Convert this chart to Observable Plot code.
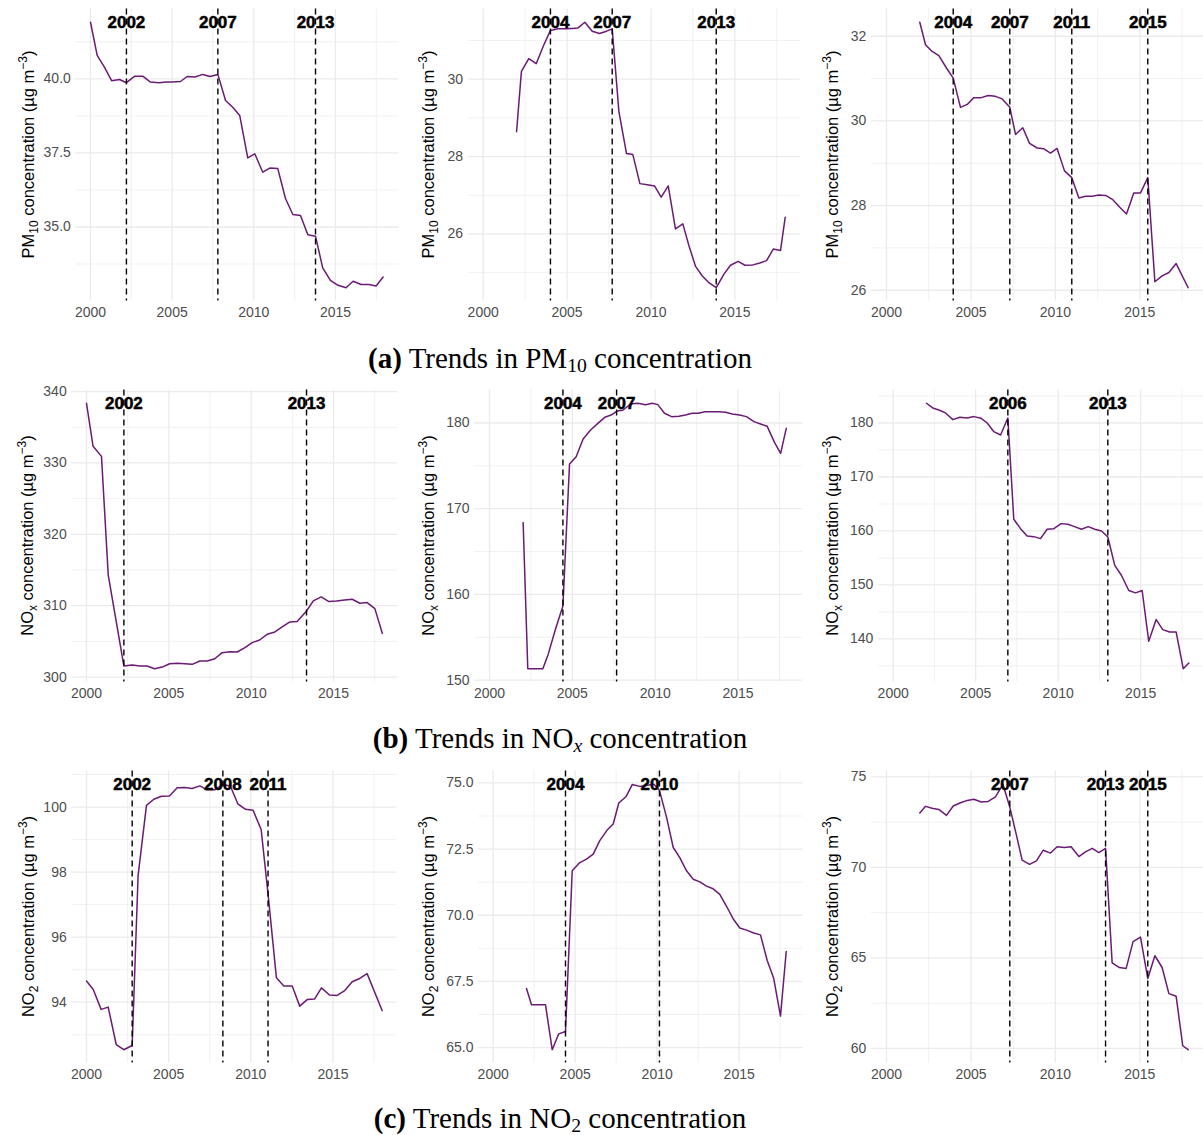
<!DOCTYPE html>
<html>
<head>
<meta charset="utf-8">
<script src="https://cdn.jsdelivr.net/npm/d3@7"></script>
<script src="https://cdn.jsdelivr.net/npm/@observablehq/plot@0.6"></script>
<style>
  html, body { margin: 0; padding: 0; background: #fff; }
  body { width: 1203px; height: 1135px; position: relative; overflow: hidden; font-family: "Liberation Sans", Arial, sans-serif; }
  .panel { position: absolute; }
  .cap { position: absolute; left: 0; width: 1120px; text-align: center; font-family: "Liberation Serif", "Times New Roman", serif; font-size: 29px; line-height: 24px; height: 24px; color: #000; white-space: nowrap; }
  .cap sub { font-size: 68%; vertical-align: -0.2em; line-height: 0; }
</style>
</head>
<body>
<script>
// ---------- shared axis ticks ----------
const xMajor = [2000, 2005, 2010, 2015];
const xMinor = [2002.5, 2007.5, 2012.5, 2017.5];

// ---------- (a) PM10 ----------
const pm10A_year = [2000.00,2000.41,2000.86,2001.29,2001.78,2002.20,2002.71,2003.20,2003.67,2004.18,2004.65,2005.00,2005.51,2005.92,2006.39,2006.88,2007.31,2007.80,2008.27,2008.71,2009.14,2009.63,2010.06,2010.55,2010.98,2011.47,2011.94,2012.39,2012.86,2013.31,2013.78,2014.22,2014.69,2015.16,2015.65,2016.08,2016.57,2017.04,2017.49,2017.92];
const pm10A_value = [41.91,40.79,40.39,39.94,39.98,39.87,40.09,40.09,39.89,39.87,39.89,39.89,39.91,40.08,40.06,40.15,40.08,40.15,39.27,39.04,38.76,37.33,37.47,36.85,36.99,36.97,35.96,35.42,35.39,34.74,34.69,33.62,33.20,33.03,32.95,33.17,33.06,33.06,33.01,33.31];
const pm10A_breaks = [2002.20, 2007.80, 2013.78];
const pm10A_labels = ["2002", "2007", "2013"];
const pm10A_yMajor = [35, 37.5, 40];
const pm10A_yMinor = [33.75, 36.25, 38.75, 41.25];

const pm10B_year = [2001.99,2002.28,2002.72,2003.16,2003.58,2004.01,2004.45,2004.91,2005.30,2005.64,2006.06,2006.50,2006.93,2007.35,2007.69,2008.09,2008.54,2008.92,2009.34,2009.78,2010.21,2010.61,2011.03,2011.46,2011.90,2012.26,2012.66,2013.05,2013.45,2013.89,2014.35,2014.74,2015.20,2015.60,2016.07,2016.49,2016.89,2017.29,2017.72,2018.00];
const pm10B_value = [28.64,30.20,30.53,30.40,30.85,31.26,31.30,31.30,31.31,31.32,31.47,31.24,31.18,31.24,31.30,29.16,28.08,28.05,27.30,27.27,27.24,26.95,27.24,26.13,26.26,25.70,25.16,24.92,24.74,24.61,24.96,25.19,25.29,25.19,25.20,25.25,25.31,25.61,25.57,26.43];
const pm10B_breaks = [2004.01, 2007.69, 2013.89];
const pm10B_labels = ["2004", "2007", "2013"];
const pm10B_yMajor = [26, 28, 30];
const pm10B_yMinor = [25, 27, 29, 31];

const pm10C_year = [2001.97,2002.31,2002.70,2003.10,2003.55,2003.95,2004.38,2004.78,2005.17,2005.61,2006.02,2006.45,2006.85,2007.30,2007.64,2008.07,2008.47,2008.92,2009.32,2009.71,2010.10,2010.54,2010.97,2011.39,2011.78,2012.18,2012.57,2012.97,2013.40,2013.81,2014.21,2014.64,2015.04,2015.47,2015.89,2016.32,2016.72,2017.15,2017.86];
const pm10C_value = [32.33,31.80,31.64,31.54,31.25,31.01,30.32,30.39,30.55,30.55,30.60,30.58,30.52,30.32,29.68,29.84,29.47,29.36,29.34,29.24,29.35,28.82,28.66,28.18,28.22,28.22,28.25,28.24,28.14,27.96,27.80,28.30,28.30,28.66,26.20,26.34,26.42,26.63,26.06];
const pm10C_breaks = [2003.95, 2007.30, 2010.97, 2015.47];
const pm10C_labels = ["2004", "2007", "2011", "2015"];
const pm10C_yMajor = [26, 28, 30, 32];
const pm10C_yMinor = [27, 29, 31];

// ---------- (b) NOx ----------
const noxA_year = [2000.00,2000.40,2000.91,2001.32,2002.27,2002.77,2003.24,2003.68,2004.13,2004.60,2005.04,2005.51,2005.97,2006.42,2006.88,2007.33,2007.79,2008.24,2008.70,2009.15,2009.62,2010.06,2010.51,2010.97,2011.44,2011.88,2012.35,2012.79,2013.36,2013.77,2014.25,2014.72,2015.18,2015.67,2016.13,2016.60,2017.04,2017.51,2017.96];
const noxA_value = [338.36,332.33,330.92,314.27,301.54,301.68,301.54,301.54,301.17,301.40,301.87,301.92,301.87,301.78,302.25,302.25,302.57,303.42,303.56,303.51,304.12,304.82,305.19,305.99,306.32,307.02,307.72,307.77,309.26,310.67,311.23,310.57,310.67,310.81,310.90,310.34,310.43,309.59,306.13];
const noxA_breaks = [2002.27, 2013.36];
const noxA_labels = ["2002", "2013"];
const noxA_yMajor = [300, 310, 320, 330, 340];
const noxA_yMinor = [305, 315, 325, 335];

const noxB_year = [2002.03,2002.31,2002.78,2003.22,2003.54,2003.98,2004.43,2004.83,2005.23,2005.65,2006.10,2006.54,2006.96,2007.34,2007.67,2008.07,2008.51,2008.95,2009.42,2009.82,2010.16,2010.56,2010.99,2011.43,2011.83,2012.23,2012.60,2013.00,2013.44,2013.84,2014.25,2014.65,2015.09,2015.51,2015.96,2016.36,2016.76,2017.20,2017.57,2017.91];
const noxB_value = [168.39,151.33,151.33,151.33,153.00,155.93,158.65,175.21,176.07,178.13,179.18,179.96,180.66,180.93,181.36,181.52,182.22,182.30,182.14,182.30,182.14,181.13,180.74,180.78,180.93,181.13,181.13,181.32,181.32,181.32,181.25,181.05,180.93,180.74,180.16,179.88,179.61,177.74,176.46,179.38];
const noxB_breaks = [2004.43, 2007.67];
const noxB_labels = ["2004", "2007"];
const noxB_yMajor = [150, 160, 170, 180];
const noxB_yMinor = [155, 165, 175];

const noxC_year = [2002.02,2002.40,2002.77,2003.17,2003.62,2004.04,2004.48,2004.89,2005.33,2005.70,2006.10,2006.51,2006.95,2007.31,2007.72,2008.12,2008.53,2008.93,2009.33,2009.74,2010.18,2010.59,2010.99,2011.41,2011.82,2012.22,2012.63,2013.01,2013.43,2013.84,2014.28,2014.69,2015.09,2015.49,2015.94,2016.34,2016.75,2017.15,2017.58,2017.92];
const noxC_value = [183.65,182.79,182.41,181.86,180.62,181.05,180.93,181.18,180.87,180.00,178.39,177.77,180.93,162.17,160.43,159.07,158.95,158.58,160.31,160.43,161.36,161.24,160.80,160.31,160.80,160.31,160.00,158.89,153.62,151.76,148.98,148.54,148.98,139.57,143.59,141.73,141.30,141.30,134.49,135.54];
const noxC_breaks = [2006.95, 2013.01];
const noxC_labels = ["2006", "2013"];
const noxC_yMajor = [140, 150, 160, 170, 180];
const noxC_yMinor = [135, 145, 155, 165, 175, 185];

// ---------- (c) NO2 ----------
const no2A_year = [2000.00,2000.41,2000.89,2001.32,2001.81,2002.27,2002.78,2003.14,2003.65,2004.10,2004.56,2005.05,2005.52,2005.98,2006.43,2006.90,2007.34,2007.81,2008.30,2008.76,2009.21,2009.68,2010.14,2010.63,2011.05,2011.56,2012.01,2012.52,2012.98,2013.43,2013.89,2014.30,2014.79,2015.25,2015.72,2016.17,2016.63,2017.08,2018.00];
const no2A_value = [94.65,94.39,93.78,93.85,92.70,92.54,92.67,97.89,100.05,100.24,100.33,100.34,100.59,100.60,100.57,100.65,100.53,100.53,100.70,100.64,100.10,99.93,99.90,99.31,97.33,94.75,94.50,94.50,93.88,94.08,94.10,94.44,94.22,94.21,94.36,94.63,94.73,94.88,93.74];
const no2A_breaks = [2002.78, 2008.30, 2011.05];
const no2A_labels = ["2002", "2008", "2011"];
const no2A_yMajor = [94, 96, 98, 100];
const no2A_yMinor = [93, 95, 97, 99, 101];

const no2B_year = [2002.03,2002.34,2002.74,2003.19,2003.60,2004.00,2004.41,2004.82,2005.28,2005.69,2006.10,2006.50,2006.95,2007.32,2007.66,2008.11,2008.48,2008.94,2009.39,2009.80,2010.14,2010.57,2010.98,2011.38,2011.79,2012.20,2012.60,2013.01,2013.41,2013.82,2014.23,2014.63,2015.04,2015.49,2015.89,2016.30,2016.71,2017.11,2017.52,2017.87];
const no2B_value = [67.23,66.62,66.62,66.62,64.92,65.52,65.61,71.68,71.99,72.12,72.31,72.82,73.22,73.45,74.24,74.49,74.94,74.87,74.91,74.95,74.72,73.71,72.56,72.18,71.68,71.36,71.26,71.10,71.00,70.79,70.34,69.87,69.52,69.43,69.33,69.26,68.29,67.61,66.19,68.63];
const no2B_breaks = [2004.41, 2010.14];
const no2B_labels = ["2004", "2010"];
const no2B_yMajor = [65, 67.5, 70, 72.5, 75];
const no2B_yMinor = [66.25, 68.75, 71.25, 73.75];

const no2C_year = [2001.97,2002.31,2002.70,2003.10,2003.55,2003.95,2004.38,2004.78,2005.17,2005.61,2006.02,2006.45,2006.89,2007.30,2007.70,2008.03,2008.47,2008.88,2009.28,2009.71,2010.10,2010.54,2010.93,2011.39,2011.78,2012.18,2012.57,2012.97,2013.36,2013.79,2014.19,2014.60,2015.04,2015.47,2015.89,2016.32,2016.72,2017.15,2017.54,2017.86];
const no2C_value = [73.01,73.37,73.27,73.20,72.87,73.39,73.57,73.70,73.76,73.61,73.64,73.89,74.59,73.33,71.75,70.40,70.17,70.36,70.95,70.79,71.14,71.10,71.14,70.60,70.86,71.05,70.82,71.05,64.73,64.47,64.42,65.90,66.15,63.86,65.12,64.47,63.03,62.88,60.15,59.93];
const no2C_breaks = [2007.30, 2012.97, 2015.47];
const no2C_labels = ["2007", "2013", "2015"];
const no2C_yMajor = [60, 65, 70, 75];
const no2C_yMinor = [62.5, 67.5, 72.5];

// ---------- captions / titles ----------
const captions = [
  ["(a)", " Trends in PM", "10", " concentration", false],
  ["(b)", " Trends in NO", "x", " concentration", true],
  ["(c)", " Trends in NO", "2", " concentration", false]
];
const yTitleParts = [["PM", "10"], ["NO", "x"], ["NO", "2"]];

// ---------- layout (pixel geometry of each panel) ----------
const X_DOMAIN = [1999.1, 2018.9];
const ROW_PITCH = 381, M_TOP = 8.5, PLOT_H = 292, M_BOTTOM = 30;
const panels = [
  {row:0, col:0, p0:90,     s:16.33, year:pm10A_year, value:pm10A_value, breaks:pm10A_breaks, labels:pm10A_labels, yMajor:pm10A_yMajor, yMinor:pm10A_yMinor, fmt:".1f", titleX:28},
  {row:0, col:1, p0:482.67, s:16.78, year:pm10B_year, value:pm10B_value, breaks:pm10B_breaks, labels:pm10B_labels, yMajor:pm10B_yMajor, yMinor:pm10B_yMinor, fmt:"d", titleX:28},
  {row:0, col:2, p0:886,    s:16.89, year:pm10C_year, value:pm10C_value, breaks:pm10C_breaks, labels:pm10C_labels, yMajor:pm10C_yMajor, yMinor:pm10C_yMinor, fmt:"d", titleX:32},
  {row:1, col:0, p0:86,     s:16.47, year:noxA_year, value:noxA_value, breaks:noxA_breaks, labels:noxA_labels, yMajor:noxA_yMajor, yMinor:noxA_yMinor, fmt:"d", titleX:27},
  {row:1, col:1, p0:489,    s:16.57, year:noxB_year, value:noxB_value, breaks:noxB_breaks, labels:noxB_labels, yMajor:noxB_yMajor, yMinor:noxB_yMinor, fmt:"d", titleX:28},
  {row:1, col:2, p0:892.67, s:16.5,  year:noxC_year, value:noxC_value, breaks:noxC_breaks, labels:noxC_labels, yMajor:noxC_yMajor, yMinor:noxC_yMinor, fmt:"d", titleX:32},
  {row:2, col:0, p0:86,     s:16.43, year:no2A_year, value:no2A_value, breaks:no2A_breaks, labels:no2A_labels, yMajor:no2A_yMajor, yMinor:no2A_yMinor, fmt:"d", titleX:28},
  {row:2, col:1, p0:492.67, s:16.4,  year:no2B_year, value:no2B_value, breaks:no2B_breaks, labels:no2B_labels, yMajor:no2B_yMajor, yMinor:no2B_yMinor, fmt:".1f", titleX:28},
  {row:2, col:2, p0:886,    s:16.89, year:no2C_year, value:no2C_value, breaks:no2C_breaks, labels:no2C_labels, yMajor:no2C_yMajor, yMinor:no2C_yMinor, fmt:"d", titleX:32}
];

const LINE_COLOR = "#6a1b74";
const GRID = "#ebebeb";

panels.forEach(p => {
  const colX = p.col * 400;
  const plotLeft = p.p0 - (2000 - X_DOMAIN[0]) * p.s;
  const plotW = (X_DOMAIN[1] - X_DOMAIN[0]) * p.s;
  const mLeft = plotLeft - colX;
  const width = mLeft + plotW;
  const height = M_TOP + PLOT_H + M_BOTTOM;
  const data = p.year.map((y, i) => ({year: y, value: p.value[i]}));
  const [lo, hi] = d3.extent(p.value);
  const pad = (hi - lo) * 0.05;
  const yMax = hi;
  const brk = p.breaks.map((b, i) => ({x: b, label: p.labels[i]}));
  const fmt = p.fmt === "d" ? (d => String(d)) : d3.format(".1f");

  const svg = Plot.plot({
    width, height,
    marginLeft: mLeft, marginRight: 0, marginTop: M_TOP, marginBottom: M_BOTTOM,
    style: {background: "none", overflow: "visible", maxWidth: "none", fontFamily: "Liberation Sans, Arial, sans-serif", fontSize: "14px", color: "#4d4d4d"},
    x: {domain: X_DOMAIN},
    y: {domain: [lo - pad, hi + pad]},
    marks: [
      Plot.ruleY(p.yMinor, {stroke: GRID, strokeWidth: 0.7}),
      Plot.ruleX(xMinor, {stroke: GRID, strokeWidth: 0.7}),
      Plot.ruleY(p.yMajor, {stroke: GRID, strokeWidth: 1.3}),
      Plot.ruleX(xMajor, {stroke: GRID, strokeWidth: 1.3}),
      Plot.axisX({ticks: xMajor, tickSize: 0, tickPadding: 6, tickFormat: d => String(d), label: null, fontSize: 14}),
      Plot.axisY({ticks: p.yMajor, tickSize: 0, tickPadding: 5, tickFormat: fmt, label: null, fontSize: 14}),
      Plot.line(data, {x: "year", y: "value", stroke: LINE_COLOR, strokeWidth: 1.5}),
      Plot.ruleX(brk, {x: "x", stroke: "#000", strokeWidth: 1.4, strokeDasharray: "6,4"}),
      Plot.text(brk, {x: "x", y: () => yMax, text: "label", fill: "#000", fontWeight: "bold", fontSize: 17, stroke: "#000", strokeWidth: 0.5})
    ]
  });

  // y-axis title with sub/superscripts
  const parts = yTitleParts[p.row];
  const cy = M_TOP + PLOT_H / 2;
  const t = d3.select(svg).append("text")
    .attr("transform", `translate(${p.titleX + 6},${cy}) rotate(-90)`)
    .attr("text-anchor", "middle")
    .attr("font-size", 16.5)
    .attr("fill", "#000")
    .attr("font-family", "Liberation Sans, Arial, sans-serif");
  t.append("tspan").text(parts[0]);
  t.append("tspan").attr("font-size", 12).attr("dy", 4).text(parts[1]);
  t.append("tspan").attr("dy", -4).text(" concentration (µg m");
  t.append("tspan").attr("font-size", 12).attr("dy", -7).text("\u22123");
  t.append("tspan").attr("dy", 7).text(")");

  const div = document.createElement("div");
  div.className = "panel";
  div.style.left = colX + "px";
  div.style.top = (p.row * ROW_PITCH) + "px";
  div.appendChild(svg);
  document.body.appendChild(div);
});

// captions
captions.forEach((c, r) => {
  const d = document.createElement("div");
  d.className = "cap";
  d.style.top = (360 + r * 380 - 14) + "px";
  const b = document.createElement("b"); b.textContent = c[0]; d.appendChild(b);
  d.appendChild(document.createTextNode(c[1]));
  const sub = document.createElement("sub");
  if (c[4]) { const i = document.createElement("i"); i.textContent = c[2]; sub.appendChild(i); } else sub.textContent = c[2];
  d.appendChild(sub);
  d.appendChild(document.createTextNode(c[3]));
  document.body.appendChild(d);
});
</script>
</body>
</html>
